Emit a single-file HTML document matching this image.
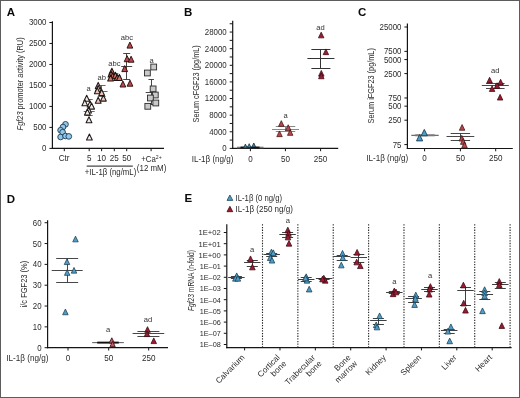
<!DOCTYPE html>
<html><head><meta charset="utf-8"><style>
html,body{margin:0;padding:0;background:#fff;}
#w{position:relative;width:520px;height:398px;overflow:hidden;background:#fff;}
#w svg{position:absolute;left:0;top:0;display:block;filter:blur(0.3px);font-family:"Liberation Sans", sans-serif;}
#b{position:absolute;left:0;top:0;width:518px;height:396px;border:1px solid #5c5c5c;}
</style></head><body>
<div id="w">
<svg width="520" height="398" viewBox="0 0 520 398">
<rect x="-5" y="-5" width="530" height="408" fill="#fff"/>
<text x="6.80" y="16.00" font-size="11.5" text-anchor="start" fill="#0a0a0a" font-weight="bold">A</text>
<line x1="52.40" y1="21.30" x2="52.40" y2="149.00" stroke="#151515" stroke-width="1.2"/>
<line x1="51.80" y1="148.40" x2="164.00" y2="148.40" stroke="#151515" stroke-width="1.2"/>
<line x1="49.40" y1="148.40" x2="52.40" y2="148.40" stroke="#151515" stroke-width="1.0"/>
<text x="46.40" y="151.35" font-size="8.3" text-anchor="end" fill="#2b2b2b" textLength="4.38" lengthAdjust="spacingAndGlyphs">0</text>
<line x1="49.40" y1="127.42" x2="52.40" y2="127.42" stroke="#151515" stroke-width="1.0"/>
<text x="46.40" y="130.37" font-size="8.3" text-anchor="end" fill="#2b2b2b" textLength="13.14" lengthAdjust="spacingAndGlyphs">500</text>
<line x1="49.40" y1="106.43" x2="52.40" y2="106.43" stroke="#151515" stroke-width="1.0"/>
<text x="46.40" y="109.38" font-size="8.3" text-anchor="end" fill="#2b2b2b" textLength="17.52" lengthAdjust="spacingAndGlyphs">1000</text>
<line x1="49.40" y1="85.45" x2="52.40" y2="85.45" stroke="#151515" stroke-width="1.0"/>
<text x="46.40" y="88.40" font-size="8.3" text-anchor="end" fill="#2b2b2b" textLength="17.52" lengthAdjust="spacingAndGlyphs">1500</text>
<line x1="49.40" y1="64.47" x2="52.40" y2="64.47" stroke="#151515" stroke-width="1.0"/>
<text x="46.40" y="67.42" font-size="8.3" text-anchor="end" fill="#2b2b2b" textLength="17.52" lengthAdjust="spacingAndGlyphs">2000</text>
<line x1="49.40" y1="43.48" x2="52.40" y2="43.48" stroke="#151515" stroke-width="1.0"/>
<text x="46.40" y="46.43" font-size="8.3" text-anchor="end" fill="#2b2b2b" textLength="17.52" lengthAdjust="spacingAndGlyphs">2500</text>
<line x1="49.40" y1="22.50" x2="52.40" y2="22.50" stroke="#151515" stroke-width="1.0"/>
<text x="46.40" y="25.45" font-size="8.3" text-anchor="end" fill="#2b2b2b" textLength="17.52" lengthAdjust="spacingAndGlyphs">3000</text>
<line x1="64.30" y1="148.40" x2="64.30" y2="151.20" stroke="#151515" stroke-width="1.0"/>
<line x1="89.20" y1="148.40" x2="89.20" y2="151.20" stroke="#151515" stroke-width="1.0"/>
<line x1="101.60" y1="148.40" x2="101.60" y2="151.20" stroke="#151515" stroke-width="1.0"/>
<line x1="114.30" y1="148.40" x2="114.30" y2="151.20" stroke="#151515" stroke-width="1.0"/>
<line x1="126.70" y1="148.40" x2="126.70" y2="151.20" stroke="#151515" stroke-width="1.0"/>
<line x1="151.10" y1="148.40" x2="151.10" y2="151.20" stroke="#151515" stroke-width="1.0"/>
<text x="64.10" y="161.30" font-size="8.4" text-anchor="middle" fill="#2b2b2b" textLength="10.90" lengthAdjust="spacingAndGlyphs">Ctr</text>
<text x="89.20" y="161.30" font-size="8.4" text-anchor="middle" fill="#2b2b2b" textLength="4.50" lengthAdjust="spacingAndGlyphs">5</text>
<text x="101.60" y="161.30" font-size="8.4" text-anchor="middle" fill="#2b2b2b" textLength="9.00" lengthAdjust="spacingAndGlyphs">10</text>
<text x="114.30" y="161.30" font-size="8.4" text-anchor="middle" fill="#2b2b2b" textLength="9.00" lengthAdjust="spacingAndGlyphs">25</text>
<text x="126.70" y="161.30" font-size="8.4" text-anchor="middle" fill="#2b2b2b" textLength="9.00" lengthAdjust="spacingAndGlyphs">50</text>
<text x="151.50" y="162.00" font-size="8.4" text-anchor="middle" fill="#2b2b2b" textLength="20.50" lengthAdjust="spacingAndGlyphs">+Ca<tspan font-size="5.5" dy="-3.4">2+</tspan></text>
<line x1="86.70" y1="166.10" x2="132.80" y2="166.10" stroke="#1a1a1a" stroke-width="1.0"/>
<text x="110.50" y="175.00" font-size="8.4" text-anchor="middle" fill="#2b2b2b" textLength="51.50" lengthAdjust="spacingAndGlyphs">+IL-1β (ng/mL)</text>
<text x="151.60" y="171.40" font-size="8.4" text-anchor="middle" fill="#2b2b2b" textLength="29.50" lengthAdjust="spacingAndGlyphs">(12 mM)</text>
<text x="22.60" y="83.90" font-size="8.6" text-anchor="middle" fill="#2b2b2b" textLength="93.00" lengthAdjust="spacingAndGlyphs" transform="rotate(-90 22.60 83.90)"><tspan font-style="italic">Fgf23</tspan> promoter activity (RU)</text>
<circle cx="65.50" cy="124.30" r="2.85" fill="#93c6e8" stroke="#173447" stroke-width="0.85"/>
<circle cx="63.00" cy="127.00" r="2.85" fill="#93c6e8" stroke="#173447" stroke-width="0.85"/>
<circle cx="60.60" cy="130.20" r="2.85" fill="#93c6e8" stroke="#173447" stroke-width="0.85"/>
<circle cx="62.60" cy="132.20" r="2.85" fill="#93c6e8" stroke="#173447" stroke-width="0.85"/>
<circle cx="60.60" cy="137.00" r="2.85" fill="#93c6e8" stroke="#173447" stroke-width="0.85"/>
<circle cx="65.50" cy="136.00" r="2.85" fill="#93c6e8" stroke="#173447" stroke-width="0.85"/>
<circle cx="68.80" cy="136.40" r="2.85" fill="#93c6e8" stroke="#173447" stroke-width="0.85"/>
<line x1="83.70" y1="111.50" x2="94.70" y2="111.50" stroke="#444" stroke-width="0.8"/>
<line x1="85.70" y1="99.50" x2="92.70" y2="99.50" stroke="#444" stroke-width="0.8"/>
<line x1="85.70" y1="115.50" x2="92.70" y2="115.50" stroke="#444" stroke-width="0.8"/>
<line x1="89.50" y1="99.50" x2="89.50" y2="115.50" stroke="#444" stroke-width="0.8"/>
<path d="M86.70 95.30L89.60 101.30L83.80 101.30Z" fill="#f8e8e4" stroke="#1e1a1a" stroke-width="1.05" stroke-linejoin="round"/>
<path d="M84.80 99.80L87.70 105.80L81.90 105.80Z" fill="#f8e8e4" stroke="#1e1a1a" stroke-width="1.05" stroke-linejoin="round"/>
<path d="M90.10 100.90L93.00 106.90L87.20 106.90Z" fill="#f8e8e4" stroke="#1e1a1a" stroke-width="1.05" stroke-linejoin="round"/>
<path d="M91.60 103.10L94.50 109.10L88.70 109.10Z" fill="#f8e8e4" stroke="#1e1a1a" stroke-width="1.05" stroke-linejoin="round"/>
<path d="M88.60 106.90L91.50 112.90L85.70 112.90Z" fill="#f8e8e4" stroke="#1e1a1a" stroke-width="1.05" stroke-linejoin="round"/>
<path d="M87.40 109.10L90.30 115.10L84.50 115.10Z" fill="#f8e8e4" stroke="#1e1a1a" stroke-width="1.05" stroke-linejoin="round"/>
<path d="M89.00 116.70L91.90 122.70L86.10 122.70Z" fill="#f8e8e4" stroke="#1e1a1a" stroke-width="1.05" stroke-linejoin="round"/>
<path d="M89.40 134.00L92.30 140.00L86.50 140.00Z" fill="#f8e8e4" stroke="#1e1a1a" stroke-width="1.05" stroke-linejoin="round"/>
<text x="88.60" y="90.80" font-size="7.6" text-anchor="middle" fill="#333333">a</text>
<line x1="95.60" y1="91.50" x2="107.60" y2="91.50" stroke="#444" stroke-width="0.8"/>
<line x1="97.60" y1="85.50" x2="105.60" y2="85.50" stroke="#444" stroke-width="0.8"/>
<line x1="97.60" y1="96.50" x2="105.60" y2="96.50" stroke="#444" stroke-width="0.8"/>
<line x1="101.50" y1="85.50" x2="101.50" y2="96.50" stroke="#444" stroke-width="0.8"/>
<path d="M98.20 82.40L101.10 88.40L95.30 88.40Z" fill="#f0c4b8" stroke="#1e1a1a" stroke-width="1.05" stroke-linejoin="round"/>
<path d="M98.20 85.50L101.10 91.50L95.30 91.50Z" fill="#f0c4b8" stroke="#1e1a1a" stroke-width="1.05" stroke-linejoin="round"/>
<path d="M97.30 87.70L100.20 93.70L94.40 93.70Z" fill="#f0c4b8" stroke="#1e1a1a" stroke-width="1.05" stroke-linejoin="round"/>
<path d="M101.70 89.40L104.60 95.40L98.80 95.40Z" fill="#f0c4b8" stroke="#1e1a1a" stroke-width="1.05" stroke-linejoin="round"/>
<path d="M103.40 95.10L106.30 101.10L100.50 101.10Z" fill="#f0c4b8" stroke="#1e1a1a" stroke-width="1.05" stroke-linejoin="round"/>
<path d="M98.20 97.30L101.10 103.30L95.30 103.30Z" fill="#f0c4b8" stroke="#1e1a1a" stroke-width="1.05" stroke-linejoin="round"/>
<text x="101.80" y="79.60" font-size="7.6" text-anchor="middle" fill="#333333">ab</text>
<line x1="108.30" y1="75.50" x2="120.30" y2="75.50" stroke="#444" stroke-width="0.8"/>
<line x1="110.30" y1="73.50" x2="118.30" y2="73.50" stroke="#444" stroke-width="0.8"/>
<line x1="110.30" y1="77.50" x2="118.30" y2="77.50" stroke="#444" stroke-width="0.8"/>
<line x1="114.50" y1="73.50" x2="114.50" y2="77.50" stroke="#444" stroke-width="0.8"/>
<path d="M111.90 68.30L114.80 74.30L109.00 74.30Z" fill="#d47464" stroke="#1e1212" stroke-width="1.05" stroke-linejoin="round"/>
<path d="M111.00 70.90L113.90 76.90L108.10 76.90Z" fill="#d47464" stroke="#1e1212" stroke-width="1.05" stroke-linejoin="round"/>
<path d="M112.80 72.70L115.70 78.70L109.90 78.70Z" fill="#d47464" stroke="#1e1212" stroke-width="1.05" stroke-linejoin="round"/>
<path d="M110.60 74.90L113.50 80.90L107.70 80.90Z" fill="#d47464" stroke="#1e1212" stroke-width="1.05" stroke-linejoin="round"/>
<path d="M115.40 72.20L118.30 78.20L112.50 78.20Z" fill="#d47464" stroke="#1e1212" stroke-width="1.05" stroke-linejoin="round"/>
<path d="M117.20 74.40L120.10 80.40L114.30 80.40Z" fill="#d47464" stroke="#1e1212" stroke-width="1.05" stroke-linejoin="round"/>
<path d="M119.40 74.40L122.30 80.40L116.50 80.40Z" fill="#d47464" stroke="#1e1212" stroke-width="1.05" stroke-linejoin="round"/>
<text x="114.40" y="66.00" font-size="7.6" text-anchor="middle" fill="#333333">abc</text>
<line x1="121.20" y1="66.50" x2="132.20" y2="66.50" stroke="#333" stroke-width="0.9"/>
<line x1="123.20" y1="53.50" x2="130.20" y2="53.50" stroke="#333" stroke-width="0.9"/>
<line x1="123.20" y1="79.50" x2="130.20" y2="79.50" stroke="#333" stroke-width="0.9"/>
<line x1="126.50" y1="53.50" x2="126.50" y2="79.50" stroke="#333" stroke-width="0.9"/>
<path d="M129.90 42.10L132.80 48.10L127.00 48.10Z" fill="#bb484c" stroke="#2a1010" stroke-width="0.95" stroke-linejoin="round"/>
<path d="M127.10 55.70L130.00 61.70L124.20 61.70Z" fill="#bb484c" stroke="#2a1010" stroke-width="0.95" stroke-linejoin="round"/>
<path d="M131.10 56.20L134.00 62.20L128.20 62.20Z" fill="#bb484c" stroke="#2a1010" stroke-width="0.95" stroke-linejoin="round"/>
<path d="M124.70 65.60L127.60 71.60L121.80 71.60Z" fill="#bb484c" stroke="#2a1010" stroke-width="0.95" stroke-linejoin="round"/>
<path d="M122.90 81.00L125.80 87.00L120.00 87.00Z" fill="#bb484c" stroke="#2a1010" stroke-width="0.95" stroke-linejoin="round"/>
<path d="M130.00 80.20L132.90 86.20L127.10 86.20Z" fill="#bb484c" stroke="#2a1010" stroke-width="0.95" stroke-linejoin="round"/>
<text x="126.90" y="39.90" font-size="7.6" text-anchor="middle" fill="#333333">abc</text>
<line x1="145.70" y1="92.50" x2="156.70" y2="92.50" stroke="#333" stroke-width="0.9"/>
<line x1="148.45" y1="79.50" x2="153.95" y2="79.50" stroke="#333" stroke-width="0.9"/>
<line x1="148.45" y1="104.50" x2="153.95" y2="104.50" stroke="#333" stroke-width="0.9"/>
<line x1="151.50" y1="79.50" x2="151.50" y2="104.50" stroke="#333" stroke-width="0.9"/>
<rect x="150.80" y="64.10" width="5.8" height="5.8" fill="#c9c9c9" stroke="#2a2a2a" stroke-width="0.9"/>
<rect x="144.50" y="70.10" width="5.8" height="5.8" fill="#c9c9c9" stroke="#2a2a2a" stroke-width="0.9"/>
<rect x="150.20" y="86.00" width="5.8" height="5.8" fill="#c9c9c9" stroke="#2a2a2a" stroke-width="0.9"/>
<rect x="152.40" y="92.10" width="5.8" height="5.8" fill="#c9c9c9" stroke="#2a2a2a" stroke-width="0.9"/>
<rect x="147.50" y="95.10" width="5.8" height="5.8" fill="#c9c9c9" stroke="#2a2a2a" stroke-width="0.9"/>
<rect x="152.90" y="100.10" width="5.8" height="5.8" fill="#c9c9c9" stroke="#2a2a2a" stroke-width="0.9"/>
<rect x="144.90" y="103.40" width="5.8" height="5.8" fill="#c9c9c9" stroke="#2a2a2a" stroke-width="0.9"/>
<text x="151.60" y="63.30" font-size="7.6" text-anchor="middle" fill="#333333">a</text>
<text x="184.10" y="16.00" font-size="11.5" text-anchor="start" fill="#0a0a0a" font-weight="bold">B</text>
<line x1="232.70" y1="20.80" x2="232.70" y2="149.00" stroke="#151515" stroke-width="1.2"/>
<line x1="232.10" y1="148.40" x2="338.20" y2="148.40" stroke="#151515" stroke-width="1.2"/>
<line x1="229.70" y1="148.40" x2="232.70" y2="148.40" stroke="#151515" stroke-width="1.0"/>
<text x="226.70" y="151.35" font-size="8.3" text-anchor="end" fill="#2b2b2b" textLength="4.38" lengthAdjust="spacingAndGlyphs">0</text>
<line x1="229.70" y1="140.09" x2="232.70" y2="140.09" stroke="#151515" stroke-width="1.0"/>
<line x1="229.70" y1="131.78" x2="232.70" y2="131.78" stroke="#151515" stroke-width="1.0"/>
<text x="226.70" y="134.73" font-size="8.3" text-anchor="end" fill="#2b2b2b" textLength="17.52" lengthAdjust="spacingAndGlyphs">4000</text>
<line x1="229.70" y1="123.47" x2="232.70" y2="123.47" stroke="#151515" stroke-width="1.0"/>
<line x1="229.70" y1="115.16" x2="232.70" y2="115.16" stroke="#151515" stroke-width="1.0"/>
<text x="226.70" y="118.11" font-size="8.3" text-anchor="end" fill="#2b2b2b" textLength="17.52" lengthAdjust="spacingAndGlyphs">8000</text>
<line x1="229.70" y1="106.85" x2="232.70" y2="106.85" stroke="#151515" stroke-width="1.0"/>
<line x1="229.70" y1="98.54" x2="232.70" y2="98.54" stroke="#151515" stroke-width="1.0"/>
<text x="226.70" y="101.49" font-size="8.3" text-anchor="end" fill="#2b2b2b" textLength="21.90" lengthAdjust="spacingAndGlyphs">12000</text>
<line x1="229.70" y1="90.23" x2="232.70" y2="90.23" stroke="#151515" stroke-width="1.0"/>
<line x1="229.70" y1="81.92" x2="232.70" y2="81.92" stroke="#151515" stroke-width="1.0"/>
<text x="226.70" y="84.87" font-size="8.3" text-anchor="end" fill="#2b2b2b" textLength="21.90" lengthAdjust="spacingAndGlyphs">16000</text>
<line x1="229.70" y1="73.61" x2="232.70" y2="73.61" stroke="#151515" stroke-width="1.0"/>
<line x1="229.70" y1="65.30" x2="232.70" y2="65.30" stroke="#151515" stroke-width="1.0"/>
<text x="226.70" y="68.25" font-size="8.3" text-anchor="end" fill="#2b2b2b" textLength="21.90" lengthAdjust="spacingAndGlyphs">20000</text>
<line x1="229.70" y1="56.99" x2="232.70" y2="56.99" stroke="#151515" stroke-width="1.0"/>
<line x1="229.70" y1="48.68" x2="232.70" y2="48.68" stroke="#151515" stroke-width="1.0"/>
<text x="226.70" y="51.63" font-size="8.3" text-anchor="end" fill="#2b2b2b" textLength="21.90" lengthAdjust="spacingAndGlyphs">24000</text>
<line x1="229.70" y1="40.37" x2="232.70" y2="40.37" stroke="#151515" stroke-width="1.0"/>
<line x1="229.70" y1="32.06" x2="232.70" y2="32.06" stroke="#151515" stroke-width="1.0"/>
<text x="226.70" y="35.01" font-size="8.3" text-anchor="end" fill="#2b2b2b" textLength="21.90" lengthAdjust="spacingAndGlyphs">28000</text>
<line x1="229.70" y1="23.75" x2="232.70" y2="23.75" stroke="#151515" stroke-width="1.0"/>
<line x1="250.40" y1="148.40" x2="250.40" y2="151.20" stroke="#151515" stroke-width="1.0"/>
<text x="250.40" y="161.60" font-size="8.4" text-anchor="middle" fill="#2b2b2b" textLength="4.50" lengthAdjust="spacingAndGlyphs">0</text>
<line x1="285.40" y1="148.40" x2="285.40" y2="151.20" stroke="#151515" stroke-width="1.0"/>
<text x="285.40" y="161.60" font-size="8.4" text-anchor="middle" fill="#2b2b2b" textLength="9.00" lengthAdjust="spacingAndGlyphs">50</text>
<line x1="320.60" y1="148.40" x2="320.60" y2="151.20" stroke="#151515" stroke-width="1.0"/>
<text x="320.60" y="161.60" font-size="8.4" text-anchor="middle" fill="#2b2b2b" textLength="13.50" lengthAdjust="spacingAndGlyphs">250</text>
<text x="191.70" y="161.50" font-size="8.6" text-anchor="start" fill="#2b2b2b" textLength="41.80" lengthAdjust="spacingAndGlyphs">IL-1β (ng/g)</text>
<text x="199.20" y="83.85" font-size="8.6" text-anchor="middle" fill="#2b2b2b" textLength="77.30" lengthAdjust="spacingAndGlyphs" transform="rotate(-90 199.20 83.85)">Serum cFGF23 (pg/mL)</text>
<line x1="237.00" y1="147.50" x2="263.50" y2="147.50" stroke="#777" stroke-width="1.6"/>
<line x1="240.50" y1="147.50" x2="259.50" y2="147.50" stroke="#111" stroke-width="1.8"/>
<path d="M245.40 144.10L247.20 147.90L243.60 147.90Z" fill="#3f8fb8" stroke="#14303d" stroke-width="0.8" stroke-linejoin="round"/>
<path d="M249.20 143.70L251.00 147.50L247.40 147.50Z" fill="#3f8fb8" stroke="#14303d" stroke-width="0.8" stroke-linejoin="round"/>
<path d="M253.80 143.00L255.60 146.80L252.00 146.80Z" fill="#3f8fb8" stroke="#14303d" stroke-width="0.8" stroke-linejoin="round"/>
<line x1="272.00" y1="129.50" x2="299.00" y2="129.50" stroke="#888" stroke-width="1.0"/>
<line x1="275.75" y1="126.50" x2="295.25" y2="126.50" stroke="#888" stroke-width="1.0"/>
<line x1="275.75" y1="131.50" x2="295.25" y2="131.50" stroke="#888" stroke-width="1.0"/>
<line x1="285.50" y1="126.50" x2="285.50" y2="131.50" stroke="#888" stroke-width="1.0"/>
<path d="M281.30 120.65L284.05 126.35L278.55 126.35Z" fill="#b9464a" stroke="#3d1414" stroke-width="0.75" stroke-linejoin="round"/>
<path d="M279.50 130.95L282.25 136.65L276.75 136.65Z" fill="#b9464a" stroke="#3d1414" stroke-width="0.75" stroke-linejoin="round"/>
<path d="M288.20 124.75L290.95 130.45L285.45 130.45Z" fill="#b9464a" stroke="#3d1414" stroke-width="0.75" stroke-linejoin="round"/>
<path d="M290.20 129.65L292.95 135.35L287.45 135.35Z" fill="#b9464a" stroke="#3d1414" stroke-width="0.75" stroke-linejoin="round"/>
<text x="285.70" y="118.20" font-size="7.6" text-anchor="middle" fill="#333333">a</text>
<line x1="307.40" y1="58.50" x2="334.40" y2="58.50" stroke="#333" stroke-width="1.0"/>
<line x1="311.40" y1="49.50" x2="330.40" y2="49.50" stroke="#333" stroke-width="1.0"/>
<line x1="311.40" y1="68.50" x2="330.40" y2="68.50" stroke="#333" stroke-width="1.0"/>
<line x1="320.50" y1="49.50" x2="320.50" y2="68.50" stroke="#333" stroke-width="1.0"/>
<path d="M321.20 32.15L323.95 37.85L318.45 37.85Z" fill="#9c1b30" stroke="#3a0a12" stroke-width="0.75" stroke-linejoin="round"/>
<path d="M325.90 48.95L328.65 54.65L323.15 54.65Z" fill="#9c1b30" stroke="#3a0a12" stroke-width="0.75" stroke-linejoin="round"/>
<path d="M321.30 70.45L324.05 76.15L318.55 76.15Z" fill="#9c1b30" stroke="#3a0a12" stroke-width="0.75" stroke-linejoin="round"/>
<path d="M321.30 73.05L324.05 78.75L318.55 78.75Z" fill="#9c1b30" stroke="#3a0a12" stroke-width="0.75" stroke-linejoin="round"/>
<text x="320.60" y="29.90" font-size="7.6" text-anchor="middle" fill="#333333">ad</text>
<text x="358.00" y="16.00" font-size="11.5" text-anchor="start" fill="#0a0a0a" font-weight="bold">C</text>
<line x1="407.40" y1="23.50" x2="407.40" y2="149.10" stroke="#151515" stroke-width="1.2"/>
<line x1="406.80" y1="148.50" x2="512.80" y2="148.50" stroke="#151515" stroke-width="1.2"/>
<line x1="404.40" y1="27.00" x2="407.40" y2="27.00" stroke="#151515" stroke-width="1.0"/>
<text x="401.40" y="29.95" font-size="8.3" text-anchor="end" fill="#2b2b2b" textLength="21.90" lengthAdjust="spacingAndGlyphs">25000</text>
<line x1="404.40" y1="51.37" x2="407.40" y2="51.37" stroke="#151515" stroke-width="1.0"/>
<text x="401.40" y="54.32" font-size="8.3" text-anchor="end" fill="#2b2b2b" textLength="17.52" lengthAdjust="spacingAndGlyphs">7500</text>
<line x1="404.40" y1="59.57" x2="407.40" y2="59.57" stroke="#151515" stroke-width="1.0"/>
<text x="401.40" y="62.52" font-size="8.3" text-anchor="end" fill="#2b2b2b" textLength="17.52" lengthAdjust="spacingAndGlyphs">5000</text>
<line x1="404.40" y1="73.60" x2="407.40" y2="73.60" stroke="#151515" stroke-width="1.0"/>
<text x="401.40" y="76.55" font-size="8.3" text-anchor="end" fill="#2b2b2b" textLength="17.52" lengthAdjust="spacingAndGlyphs">2500</text>
<line x1="404.40" y1="97.97" x2="407.40" y2="97.97" stroke="#151515" stroke-width="1.0"/>
<text x="401.40" y="100.92" font-size="8.3" text-anchor="end" fill="#2b2b2b" textLength="13.14" lengthAdjust="spacingAndGlyphs">750</text>
<line x1="404.40" y1="106.17" x2="407.40" y2="106.17" stroke="#151515" stroke-width="1.0"/>
<text x="401.40" y="109.12" font-size="8.3" text-anchor="end" fill="#2b2b2b" textLength="13.14" lengthAdjust="spacingAndGlyphs">500</text>
<line x1="404.40" y1="120.20" x2="407.40" y2="120.20" stroke="#151515" stroke-width="1.0"/>
<text x="401.40" y="123.15" font-size="8.3" text-anchor="end" fill="#2b2b2b" textLength="13.14" lengthAdjust="spacingAndGlyphs">250</text>
<line x1="404.40" y1="144.57" x2="407.40" y2="144.57" stroke="#151515" stroke-width="1.0"/>
<text x="401.40" y="147.52" font-size="8.3" text-anchor="end" fill="#2b2b2b" textLength="8.76" lengthAdjust="spacingAndGlyphs">75</text>
<line x1="424.60" y1="148.50" x2="424.60" y2="151.30" stroke="#151515" stroke-width="1.0"/>
<text x="424.60" y="161.20" font-size="8.4" text-anchor="middle" fill="#2b2b2b" textLength="4.50" lengthAdjust="spacingAndGlyphs">0</text>
<line x1="460.40" y1="148.50" x2="460.40" y2="151.30" stroke="#151515" stroke-width="1.0"/>
<text x="460.40" y="161.20" font-size="8.4" text-anchor="middle" fill="#2b2b2b" textLength="9.00" lengthAdjust="spacingAndGlyphs">50</text>
<line x1="495.70" y1="148.50" x2="495.70" y2="151.30" stroke="#151515" stroke-width="1.0"/>
<text x="495.70" y="161.20" font-size="8.4" text-anchor="middle" fill="#2b2b2b" textLength="13.50" lengthAdjust="spacingAndGlyphs">250</text>
<text x="366.20" y="161.30" font-size="8.6" text-anchor="start" fill="#2b2b2b" textLength="42.00" lengthAdjust="spacingAndGlyphs">IL-1β (ng/g)</text>
<text x="374.00" y="85.80" font-size="8.6" text-anchor="middle" fill="#2b2b2b" textLength="75.40" lengthAdjust="spacingAndGlyphs" transform="rotate(-90 374.00 85.80)">Serum iFGF23 (pg/mL)</text>
<line x1="411.30" y1="135.30" x2="438.70" y2="135.30" stroke="#333" stroke-width="0.9"/>
<line x1="415.20" y1="135.30" x2="434.80" y2="135.30" stroke="#7a7a7a" stroke-width="2.0"/>
<path d="M424.30 129.40L427.40 135.80L421.20 135.80Z" fill="#4e9dca" stroke="#1b3d4e" stroke-width="0.9" stroke-linejoin="round"/>
<path d="M419.60 134.50L422.70 140.90L416.50 140.90Z" fill="#4e9dca" stroke="#1b3d4e" stroke-width="0.9" stroke-linejoin="round"/>
<line x1="446.50" y1="136.50" x2="474.30" y2="136.50" stroke="#333" stroke-width="0.9"/>
<line x1="450.70" y1="133.50" x2="470.10" y2="133.50" stroke="#333" stroke-width="0.9"/>
<line x1="450.70" y1="140.50" x2="470.10" y2="140.50" stroke="#333" stroke-width="0.9"/>
<line x1="460.50" y1="133.50" x2="460.50" y2="140.50" stroke="#333" stroke-width="0.9"/>
<path d="M462.10 124.55L464.85 130.25L459.35 130.25Z" fill="#b9464a" stroke="#3d1414" stroke-width="0.75" stroke-linejoin="round"/>
<path d="M461.80 135.35L464.55 141.05L459.05 141.05Z" fill="#b9464a" stroke="#3d1414" stroke-width="0.75" stroke-linejoin="round"/>
<path d="M463.20 138.65L465.95 144.35L460.45 144.35Z" fill="#b9464a" stroke="#3d1414" stroke-width="0.75" stroke-linejoin="round"/>
<path d="M464.50 142.05L467.25 147.75L461.75 147.75Z" fill="#b9464a" stroke="#3d1414" stroke-width="0.75" stroke-linejoin="round"/>
<line x1="481.80" y1="85.50" x2="508.80" y2="85.50" stroke="#333" stroke-width="0.9"/>
<line x1="486.00" y1="83.50" x2="504.60" y2="83.50" stroke="#333" stroke-width="0.9"/>
<line x1="486.00" y1="88.50" x2="504.60" y2="88.50" stroke="#333" stroke-width="0.9"/>
<line x1="495.50" y1="83.50" x2="495.50" y2="88.50" stroke="#333" stroke-width="0.9"/>
<path d="M489.60 77.25L492.35 82.95L486.85 82.95Z" fill="#9c1b30" stroke="#3a0a12" stroke-width="0.75" stroke-linejoin="round"/>
<path d="M500.60 79.25L503.35 84.95L497.85 84.95Z" fill="#9c1b30" stroke="#3a0a12" stroke-width="0.75" stroke-linejoin="round"/>
<path d="M497.10 82.75L499.85 88.45L494.35 88.45Z" fill="#9c1b30" stroke="#3a0a12" stroke-width="0.75" stroke-linejoin="round"/>
<path d="M492.10 85.75L494.85 91.45L489.35 91.45Z" fill="#9c1b30" stroke="#3a0a12" stroke-width="0.75" stroke-linejoin="round"/>
<path d="M500.10 94.35L502.85 100.05L497.35 100.05Z" fill="#9c1b30" stroke="#3a0a12" stroke-width="0.75" stroke-linejoin="round"/>
<text x="495.20" y="72.90" font-size="7.6" text-anchor="middle" fill="#333333">ad</text>
<text x="6.80" y="202.50" font-size="11.5" text-anchor="start" fill="#0a0a0a" font-weight="bold">D</text>
<line x1="47.60" y1="220.20" x2="47.60" y2="348.30" stroke="#151515" stroke-width="1.2"/>
<line x1="47.00" y1="347.70" x2="168.00" y2="347.70" stroke="#151515" stroke-width="1.2"/>
<line x1="44.60" y1="347.70" x2="47.60" y2="347.70" stroke="#151515" stroke-width="1.0"/>
<text x="41.60" y="350.65" font-size="8.3" text-anchor="end" fill="#2b2b2b" textLength="4.38" lengthAdjust="spacingAndGlyphs">0</text>
<line x1="44.60" y1="326.87" x2="47.60" y2="326.87" stroke="#151515" stroke-width="1.0"/>
<text x="41.60" y="329.82" font-size="8.3" text-anchor="end" fill="#2b2b2b" textLength="8.76" lengthAdjust="spacingAndGlyphs">10</text>
<line x1="44.60" y1="306.04" x2="47.60" y2="306.04" stroke="#151515" stroke-width="1.0"/>
<text x="41.60" y="308.99" font-size="8.3" text-anchor="end" fill="#2b2b2b" textLength="8.76" lengthAdjust="spacingAndGlyphs">20</text>
<line x1="44.60" y1="285.21" x2="47.60" y2="285.21" stroke="#151515" stroke-width="1.0"/>
<text x="41.60" y="288.16" font-size="8.3" text-anchor="end" fill="#2b2b2b" textLength="8.76" lengthAdjust="spacingAndGlyphs">30</text>
<line x1="44.60" y1="264.38" x2="47.60" y2="264.38" stroke="#151515" stroke-width="1.0"/>
<text x="41.60" y="267.33" font-size="8.3" text-anchor="end" fill="#2b2b2b" textLength="8.76" lengthAdjust="spacingAndGlyphs">40</text>
<line x1="44.60" y1="243.55" x2="47.60" y2="243.55" stroke="#151515" stroke-width="1.0"/>
<text x="41.60" y="246.50" font-size="8.3" text-anchor="end" fill="#2b2b2b" textLength="8.76" lengthAdjust="spacingAndGlyphs">50</text>
<line x1="44.60" y1="222.72" x2="47.60" y2="222.72" stroke="#151515" stroke-width="1.0"/>
<text x="41.60" y="225.67" font-size="8.3" text-anchor="end" fill="#2b2b2b" textLength="8.76" lengthAdjust="spacingAndGlyphs">60</text>
<line x1="68.00" y1="347.70" x2="68.00" y2="350.50" stroke="#151515" stroke-width="1.0"/>
<text x="68.00" y="360.70" font-size="8.4" text-anchor="middle" fill="#2b2b2b" textLength="4.50" lengthAdjust="spacingAndGlyphs">0</text>
<line x1="108.70" y1="347.70" x2="108.70" y2="350.50" stroke="#151515" stroke-width="1.0"/>
<text x="108.70" y="360.70" font-size="8.4" text-anchor="middle" fill="#2b2b2b" textLength="9.00" lengthAdjust="spacingAndGlyphs">50</text>
<line x1="148.70" y1="347.70" x2="148.70" y2="350.50" stroke="#151515" stroke-width="1.0"/>
<text x="148.70" y="360.70" font-size="8.4" text-anchor="middle" fill="#2b2b2b" textLength="13.50" lengthAdjust="spacingAndGlyphs">250</text>
<text x="6.20" y="360.70" font-size="8.6" text-anchor="start" fill="#2b2b2b" textLength="42.30" lengthAdjust="spacingAndGlyphs">IL-1β (ng/g)</text>
<text x="27.00" y="284.10" font-size="8.6" text-anchor="middle" fill="#2b2b2b" textLength="46.60" lengthAdjust="spacingAndGlyphs" transform="rotate(-90 27.00 284.10)">i/c FGF23 (%)</text>
<line x1="51.70" y1="270.50" x2="82.70" y2="270.50" stroke="#333" stroke-width="0.9"/>
<line x1="56.20" y1="258.50" x2="78.20" y2="258.50" stroke="#333" stroke-width="0.9"/>
<line x1="56.20" y1="282.50" x2="78.20" y2="282.50" stroke="#333" stroke-width="0.9"/>
<line x1="67.50" y1="258.50" x2="67.50" y2="282.50" stroke="#333" stroke-width="0.9"/>
<path d="M75.50 236.15L78.25 241.85L72.75 241.85Z" fill="#4e9dca" stroke="#1b3d4e" stroke-width="0.75" stroke-linejoin="round"/>
<path d="M67.00 258.85L69.75 264.55L64.25 264.55Z" fill="#4e9dca" stroke="#1b3d4e" stroke-width="0.75" stroke-linejoin="round"/>
<path d="M67.20 269.65L69.95 275.35L64.45 275.35Z" fill="#4e9dca" stroke="#1b3d4e" stroke-width="0.75" stroke-linejoin="round"/>
<path d="M74.00 267.45L76.75 273.15L71.25 273.15Z" fill="#4e9dca" stroke="#1b3d4e" stroke-width="0.75" stroke-linejoin="round"/>
<path d="M65.40 309.05L68.15 314.75L62.65 314.75Z" fill="#4e9dca" stroke="#1b3d4e" stroke-width="0.75" stroke-linejoin="round"/>
<line x1="92.20" y1="342.60" x2="123.80" y2="342.60" stroke="#666" stroke-width="1.1"/>
<line x1="97.20" y1="342.60" x2="118.80" y2="342.60" stroke="#111" stroke-width="1.9"/>
<path d="M111.80 337.80L114.40 343.00L109.20 343.00Z" fill="#c65a64" stroke="#3a1216" stroke-width="0.85" stroke-linejoin="round"/>
<path d="M112.60 341.40L115.20 346.60L110.00 346.60Z" fill="#c65a64" stroke="#3a1216" stroke-width="0.85" stroke-linejoin="round"/>
<text x="108.00" y="332.20" font-size="7.6" text-anchor="middle" fill="#333333">a</text>
<line x1="132.55" y1="333.50" x2="164.25" y2="333.50" stroke="#333" stroke-width="0.9"/>
<line x1="137.40" y1="331.50" x2="159.40" y2="331.50" stroke="#333" stroke-width="0.9"/>
<line x1="137.40" y1="336.50" x2="159.40" y2="336.50" stroke="#333" stroke-width="0.9"/>
<line x1="148.50" y1="331.50" x2="148.50" y2="336.50" stroke="#333" stroke-width="0.9"/>
<path d="M147.50 326.65L150.25 332.35L144.75 332.35Z" fill="#9c1b30" stroke="#3a0a12" stroke-width="0.75" stroke-linejoin="round"/>
<path d="M147.00 330.90L149.75 336.60L144.25 336.60Z" fill="#9c1b30" stroke="#3a0a12" stroke-width="0.75" stroke-linejoin="round"/>
<path d="M153.75 337.90L156.50 343.60L151.00 343.60Z" fill="#9c1b30" stroke="#3a0a12" stroke-width="0.75" stroke-linejoin="round"/>
<text x="148.00" y="322.20" font-size="7.6" text-anchor="middle" fill="#333333">ad</text>
<text x="184.40" y="202.30" font-size="11.5" text-anchor="start" fill="#0a0a0a" font-weight="bold">E</text>
<path d="M229.90 195.00L232.80 200.40L227.00 200.40Z" fill="#4e9dca" stroke="#1b3d4e" stroke-width="0.75" stroke-linejoin="round"/>
<text x="235.60" y="200.80" font-size="8.5" text-anchor="start" fill="#2b2b2b" textLength="46.50" lengthAdjust="spacingAndGlyphs">IL-1β (0 ng/g)</text>
<path d="M229.90 206.30L232.80 211.70L227.00 211.70Z" fill="#9c1b30" stroke="#3a0a12" stroke-width="0.75" stroke-linejoin="round"/>
<text x="235.60" y="211.90" font-size="8.5" text-anchor="start" fill="#2b2b2b" textLength="57.30" lengthAdjust="spacingAndGlyphs">IL-1β (250 ng/g)</text>
<line x1="226.80" y1="224.20" x2="226.80" y2="348.20" stroke="#151515" stroke-width="1.2"/>
<line x1="226.20" y1="347.60" x2="511.60" y2="347.60" stroke="#151515" stroke-width="1.2"/>
<line x1="223.80" y1="232.50" x2="226.80" y2="232.50" stroke="#151515" stroke-width="1.0"/>
<text x="220.80" y="235.35" font-size="8.1" text-anchor="end" fill="#2b2b2b" textLength="22.40" lengthAdjust="spacingAndGlyphs">1E+02</text>
<line x1="223.80" y1="243.70" x2="226.80" y2="243.70" stroke="#151515" stroke-width="1.0"/>
<text x="220.80" y="246.55" font-size="8.1" text-anchor="end" fill="#2b2b2b" textLength="22.40" lengthAdjust="spacingAndGlyphs">1E+01</text>
<line x1="223.80" y1="254.90" x2="226.80" y2="254.90" stroke="#151515" stroke-width="1.0"/>
<text x="220.80" y="257.75" font-size="8.1" text-anchor="end" fill="#2b2b2b" textLength="22.40" lengthAdjust="spacingAndGlyphs">1E+00</text>
<line x1="223.80" y1="266.10" x2="226.80" y2="266.10" stroke="#151515" stroke-width="1.0"/>
<text x="220.80" y="268.95" font-size="8.1" text-anchor="end" fill="#2b2b2b" textLength="21.10" lengthAdjust="spacingAndGlyphs">1E–01</text>
<line x1="223.80" y1="277.30" x2="226.80" y2="277.30" stroke="#151515" stroke-width="1.0"/>
<text x="220.80" y="280.15" font-size="8.1" text-anchor="end" fill="#2b2b2b" textLength="21.10" lengthAdjust="spacingAndGlyphs">1E–02</text>
<line x1="223.80" y1="288.50" x2="226.80" y2="288.50" stroke="#151515" stroke-width="1.0"/>
<text x="220.80" y="291.35" font-size="8.1" text-anchor="end" fill="#2b2b2b" textLength="21.10" lengthAdjust="spacingAndGlyphs">1E–03</text>
<line x1="223.80" y1="299.70" x2="226.80" y2="299.70" stroke="#151515" stroke-width="1.0"/>
<text x="220.80" y="302.55" font-size="8.1" text-anchor="end" fill="#2b2b2b" textLength="21.10" lengthAdjust="spacingAndGlyphs">1E–04</text>
<line x1="223.80" y1="310.90" x2="226.80" y2="310.90" stroke="#151515" stroke-width="1.0"/>
<text x="220.80" y="313.75" font-size="8.1" text-anchor="end" fill="#2b2b2b" textLength="21.10" lengthAdjust="spacingAndGlyphs">1E–05</text>
<line x1="223.80" y1="322.10" x2="226.80" y2="322.10" stroke="#151515" stroke-width="1.0"/>
<text x="220.80" y="324.95" font-size="8.1" text-anchor="end" fill="#2b2b2b" textLength="21.10" lengthAdjust="spacingAndGlyphs">1E–06</text>
<line x1="223.80" y1="333.30" x2="226.80" y2="333.30" stroke="#151515" stroke-width="1.0"/>
<text x="220.80" y="336.15" font-size="8.1" text-anchor="end" fill="#2b2b2b" textLength="21.10" lengthAdjust="spacingAndGlyphs">1E–07</text>
<line x1="223.80" y1="344.50" x2="226.80" y2="344.50" stroke="#151515" stroke-width="1.0"/>
<text x="220.80" y="347.35" font-size="8.1" text-anchor="end" fill="#2b2b2b" textLength="21.10" lengthAdjust="spacingAndGlyphs">1E–08</text>
<line x1="262.50" y1="224.30" x2="262.50" y2="347.60" stroke="#222" stroke-width="1.1" stroke-dasharray="1.3 1.35"/>
<line x1="297.87" y1="224.30" x2="297.87" y2="347.60" stroke="#222" stroke-width="1.1" stroke-dasharray="1.3 1.35"/>
<line x1="333.24" y1="224.30" x2="333.24" y2="347.60" stroke="#222" stroke-width="1.1" stroke-dasharray="1.3 1.35"/>
<line x1="368.61" y1="224.30" x2="368.61" y2="347.60" stroke="#222" stroke-width="1.1" stroke-dasharray="1.3 1.35"/>
<line x1="403.98" y1="224.30" x2="403.98" y2="347.60" stroke="#222" stroke-width="1.1" stroke-dasharray="1.3 1.35"/>
<line x1="439.35" y1="224.30" x2="439.35" y2="347.60" stroke="#222" stroke-width="1.1" stroke-dasharray="1.3 1.35"/>
<line x1="474.72" y1="224.30" x2="474.72" y2="347.60" stroke="#222" stroke-width="1.1" stroke-dasharray="1.3 1.35"/>
<line x1="510.09" y1="224.30" x2="510.09" y2="347.60" stroke="#222" stroke-width="1.1" stroke-dasharray="1.3 1.35"/>
<line x1="244.60" y1="347.60" x2="244.60" y2="350.40" stroke="#151515" stroke-width="1.0"/>
<text x="245.00" y="358.00" font-size="8.2" text-anchor="end" fill="#2b2b2b" transform="rotate(-45 245.00 358.00)">Calvarium</text>
<line x1="279.97" y1="347.60" x2="279.97" y2="350.40" stroke="#151515" stroke-width="1.0"/>
<text x="280.37" y="358.00" font-size="8.2" text-anchor="end" fill="#2b2b2b" transform="rotate(-45 280.37 358.00)">Cortical</text>
<text x="286.87" y="364.00" font-size="8.2" text-anchor="end" fill="#2b2b2b" transform="rotate(-45 286.87 364.00)">bone</text>
<line x1="315.34" y1="347.60" x2="315.34" y2="350.40" stroke="#151515" stroke-width="1.0"/>
<text x="315.74" y="358.00" font-size="8.2" text-anchor="end" fill="#2b2b2b" transform="rotate(-45 315.74 358.00)">Trabecular</text>
<text x="322.24" y="364.00" font-size="8.2" text-anchor="end" fill="#2b2b2b" transform="rotate(-45 322.24 364.00)">bone</text>
<line x1="350.71" y1="347.60" x2="350.71" y2="350.40" stroke="#151515" stroke-width="1.0"/>
<text x="351.11" y="358.00" font-size="8.2" text-anchor="end" fill="#2b2b2b" transform="rotate(-45 351.11 358.00)">Bone</text>
<text x="357.61" y="364.00" font-size="8.2" text-anchor="end" fill="#2b2b2b" transform="rotate(-45 357.61 364.00)">marrow</text>
<line x1="386.08" y1="347.60" x2="386.08" y2="350.40" stroke="#151515" stroke-width="1.0"/>
<text x="386.48" y="358.00" font-size="8.2" text-anchor="end" fill="#2b2b2b" transform="rotate(-45 386.48 358.00)">Kidney</text>
<line x1="421.45" y1="347.60" x2="421.45" y2="350.40" stroke="#151515" stroke-width="1.0"/>
<text x="421.85" y="358.00" font-size="8.2" text-anchor="end" fill="#2b2b2b" transform="rotate(-45 421.85 358.00)">Spleen</text>
<line x1="456.82" y1="347.60" x2="456.82" y2="350.40" stroke="#151515" stroke-width="1.0"/>
<text x="457.22" y="358.00" font-size="8.2" text-anchor="end" fill="#2b2b2b" transform="rotate(-45 457.22 358.00)">Liver</text>
<line x1="492.19" y1="347.60" x2="492.19" y2="350.40" stroke="#151515" stroke-width="1.0"/>
<text x="492.59" y="358.00" font-size="8.2" text-anchor="end" fill="#2b2b2b" transform="rotate(-45 492.59 358.00)">Heart</text>
<text x="194.00" y="280.50" font-size="8.6" text-anchor="middle" fill="#2b2b2b" textLength="61.00" lengthAdjust="spacingAndGlyphs" transform="rotate(-90 194.00 280.50)"><tspan font-style="italic">Fgf23</tspan> mRNA (n-fold)</text>
<line x1="228.15" y1="277.50" x2="244.65" y2="277.50" stroke="#2a2a2a" stroke-width="0.9"/>
<line x1="230.90" y1="276.50" x2="241.90" y2="276.50" stroke="#2a2a2a" stroke-width="0.9"/>
<line x1="230.90" y1="278.50" x2="241.90" y2="278.50" stroke="#2a2a2a" stroke-width="0.9"/>
<line x1="236.50" y1="276.50" x2="236.50" y2="278.50" stroke="#2a2a2a" stroke-width="0.9"/>
<path d="M236.70 272.95L239.50 278.65L233.90 278.65Z" fill="#4e9dca" stroke="#1b3d4e" stroke-width="0.75" stroke-linejoin="round"/>
<path d="M235.40 275.45L238.20 281.15L232.60 281.15Z" fill="#4e9dca" stroke="#1b3d4e" stroke-width="0.75" stroke-linejoin="round"/>
<path d="M237.90 275.45L240.70 281.15L235.10 281.15Z" fill="#4e9dca" stroke="#1b3d4e" stroke-width="0.75" stroke-linejoin="round"/>
<line x1="244.05" y1="262.50" x2="260.55" y2="262.50" stroke="#2a2a2a" stroke-width="0.9"/>
<line x1="246.80" y1="260.50" x2="257.80" y2="260.50" stroke="#2a2a2a" stroke-width="0.9"/>
<line x1="246.80" y1="266.50" x2="257.80" y2="266.50" stroke="#2a2a2a" stroke-width="0.9"/>
<line x1="252.50" y1="260.50" x2="252.50" y2="266.50" stroke="#2a2a2a" stroke-width="0.9"/>
<path d="M250.50 255.95L253.30 261.65L247.70 261.65Z" fill="#9c1b30" stroke="#3a0a12" stroke-width="0.75" stroke-linejoin="round"/>
<path d="M252.40 264.15L255.20 269.85L249.60 269.85Z" fill="#9c1b30" stroke="#3a0a12" stroke-width="0.75" stroke-linejoin="round"/>
<text x="252.10" y="252.10" font-size="7.6" text-anchor="middle" fill="#333333">a</text>
<line x1="263.45" y1="254.50" x2="279.95" y2="254.50" stroke="#2a2a2a" stroke-width="0.9"/>
<line x1="266.20" y1="253.50" x2="277.20" y2="253.50" stroke="#2a2a2a" stroke-width="0.9"/>
<line x1="266.20" y1="256.50" x2="277.20" y2="256.50" stroke="#2a2a2a" stroke-width="0.9"/>
<line x1="271.50" y1="253.50" x2="271.50" y2="256.50" stroke="#2a2a2a" stroke-width="0.9"/>
<path d="M271.40 249.15L274.20 254.85L268.60 254.85Z" fill="#4e9dca" stroke="#1b3d4e" stroke-width="0.75" stroke-linejoin="round"/>
<path d="M273.30 249.85L276.10 255.55L270.50 255.55Z" fill="#4e9dca" stroke="#1b3d4e" stroke-width="0.75" stroke-linejoin="round"/>
<path d="M270.20 254.85L273.00 260.55L267.40 260.55Z" fill="#4e9dca" stroke="#1b3d4e" stroke-width="0.75" stroke-linejoin="round"/>
<path d="M272.00 257.35L274.80 263.05L269.20 263.05Z" fill="#4e9dca" stroke="#1b3d4e" stroke-width="0.75" stroke-linejoin="round"/>
<line x1="279.35" y1="234.50" x2="295.85" y2="234.50" stroke="#2a2a2a" stroke-width="0.9"/>
<line x1="282.10" y1="232.50" x2="293.10" y2="232.50" stroke="#2a2a2a" stroke-width="0.9"/>
<line x1="282.10" y1="237.50" x2="293.10" y2="237.50" stroke="#2a2a2a" stroke-width="0.9"/>
<line x1="287.50" y1="232.50" x2="287.50" y2="237.50" stroke="#2a2a2a" stroke-width="0.9"/>
<path d="M287.80 227.15L290.60 232.85L285.00 232.85Z" fill="#9c1b30" stroke="#3a0a12" stroke-width="0.75" stroke-linejoin="round"/>
<path d="M288.50 230.65L291.30 236.35L285.70 236.35Z" fill="#9c1b30" stroke="#3a0a12" stroke-width="0.75" stroke-linejoin="round"/>
<path d="M288.00 234.15L290.80 239.85L285.20 239.85Z" fill="#9c1b30" stroke="#3a0a12" stroke-width="0.75" stroke-linejoin="round"/>
<path d="M289.00 240.45L291.80 246.15L286.20 246.15Z" fill="#9c1b30" stroke="#3a0a12" stroke-width="0.75" stroke-linejoin="round"/>
<text x="287.80" y="223.40" font-size="7.6" text-anchor="middle" fill="#333333">a</text>
<line x1="297.95" y1="279.50" x2="314.45" y2="279.50" stroke="#2a2a2a" stroke-width="0.9"/>
<line x1="300.70" y1="277.50" x2="311.70" y2="277.50" stroke="#2a2a2a" stroke-width="0.9"/>
<line x1="300.70" y1="281.50" x2="311.70" y2="281.50" stroke="#2a2a2a" stroke-width="0.9"/>
<line x1="306.50" y1="277.50" x2="306.50" y2="281.50" stroke="#2a2a2a" stroke-width="0.9"/>
<path d="M306.20 273.85L309.00 279.55L303.40 279.55Z" fill="#4e9dca" stroke="#1b3d4e" stroke-width="0.75" stroke-linejoin="round"/>
<path d="M307.00 277.45L309.80 283.15L304.20 283.15Z" fill="#4e9dca" stroke="#1b3d4e" stroke-width="0.75" stroke-linejoin="round"/>
<path d="M305.50 275.15L308.30 280.85L302.70 280.85Z" fill="#4e9dca" stroke="#1b3d4e" stroke-width="0.75" stroke-linejoin="round"/>
<path d="M309.20 286.25L312.00 291.95L306.40 291.95Z" fill="#4e9dca" stroke="#1b3d4e" stroke-width="0.75" stroke-linejoin="round"/>
<line x1="315.85" y1="278.50" x2="332.35" y2="278.50" stroke="#2a2a2a" stroke-width="0.9"/>
<line x1="318.60" y1="278.50" x2="329.60" y2="278.50" stroke="#2a2a2a" stroke-width="0.9"/>
<line x1="318.60" y1="279.50" x2="329.60" y2="279.50" stroke="#2a2a2a" stroke-width="0.9"/>
<line x1="324.50" y1="278.50" x2="324.50" y2="279.50" stroke="#2a2a2a" stroke-width="0.9"/>
<path d="M323.80 275.25L326.60 280.95L321.00 280.95Z" fill="#9c1b30" stroke="#3a0a12" stroke-width="0.75" stroke-linejoin="round"/>
<path d="M325.20 277.45L328.00 283.15L322.40 283.15Z" fill="#9c1b30" stroke="#3a0a12" stroke-width="0.75" stroke-linejoin="round"/>
<path d="M322.50 276.15L325.30 281.85L319.70 281.85Z" fill="#9c1b30" stroke="#3a0a12" stroke-width="0.75" stroke-linejoin="round"/>
<line x1="333.95" y1="256.50" x2="350.45" y2="256.50" stroke="#2a2a2a" stroke-width="0.9"/>
<line x1="336.70" y1="255.50" x2="347.70" y2="255.50" stroke="#2a2a2a" stroke-width="0.9"/>
<line x1="336.70" y1="260.50" x2="347.70" y2="260.50" stroke="#2a2a2a" stroke-width="0.9"/>
<line x1="342.50" y1="255.50" x2="342.50" y2="260.50" stroke="#2a2a2a" stroke-width="0.9"/>
<path d="M342.50 250.45L345.30 256.15L339.70 256.15Z" fill="#4e9dca" stroke="#1b3d4e" stroke-width="0.75" stroke-linejoin="round"/>
<path d="M342.80 254.85L345.60 260.55L340.00 260.55Z" fill="#4e9dca" stroke="#1b3d4e" stroke-width="0.75" stroke-linejoin="round"/>
<path d="M341.30 262.15L344.10 267.85L338.50 267.85Z" fill="#4e9dca" stroke="#1b3d4e" stroke-width="0.75" stroke-linejoin="round"/>
<line x1="350.55" y1="257.50" x2="367.05" y2="257.50" stroke="#2a2a2a" stroke-width="0.9"/>
<line x1="353.30" y1="254.50" x2="364.30" y2="254.50" stroke="#2a2a2a" stroke-width="0.9"/>
<line x1="353.30" y1="262.50" x2="364.30" y2="262.50" stroke="#2a2a2a" stroke-width="0.9"/>
<line x1="358.50" y1="254.50" x2="358.50" y2="262.50" stroke="#2a2a2a" stroke-width="0.9"/>
<path d="M357.10 249.45L359.90 255.15L354.30 255.15Z" fill="#9c1b30" stroke="#3a0a12" stroke-width="0.75" stroke-linejoin="round"/>
<path d="M356.70 259.15L359.50 264.85L353.90 264.85Z" fill="#9c1b30" stroke="#3a0a12" stroke-width="0.75" stroke-linejoin="round"/>
<path d="M360.30 262.85L363.10 268.55L357.50 268.55Z" fill="#9c1b30" stroke="#3a0a12" stroke-width="0.75" stroke-linejoin="round"/>
<line x1="370.15" y1="320.50" x2="386.65" y2="320.50" stroke="#2a2a2a" stroke-width="0.9"/>
<line x1="372.90" y1="318.50" x2="383.90" y2="318.50" stroke="#2a2a2a" stroke-width="0.9"/>
<line x1="372.90" y1="324.50" x2="383.90" y2="324.50" stroke="#2a2a2a" stroke-width="0.9"/>
<line x1="378.50" y1="318.50" x2="378.50" y2="324.50" stroke="#2a2a2a" stroke-width="0.9"/>
<path d="M379.60 312.95L382.40 318.65L376.80 318.65Z" fill="#4e9dca" stroke="#1b3d4e" stroke-width="0.75" stroke-linejoin="round"/>
<path d="M376.20 321.95L379.00 327.65L373.40 327.65Z" fill="#4e9dca" stroke="#1b3d4e" stroke-width="0.75" stroke-linejoin="round"/>
<path d="M377.00 324.15L379.80 329.85L374.20 329.85Z" fill="#4e9dca" stroke="#1b3d4e" stroke-width="0.75" stroke-linejoin="round"/>
<line x1="386.05" y1="292.50" x2="402.55" y2="292.50" stroke="#2a2a2a" stroke-width="0.9"/>
<line x1="388.80" y1="291.50" x2="399.80" y2="291.50" stroke="#2a2a2a" stroke-width="0.9"/>
<line x1="388.80" y1="293.50" x2="399.80" y2="293.50" stroke="#2a2a2a" stroke-width="0.9"/>
<line x1="394.50" y1="291.50" x2="394.50" y2="293.50" stroke="#2a2a2a" stroke-width="0.9"/>
<path d="M394.30 288.05L397.10 293.75L391.50 293.75Z" fill="#9c1b30" stroke="#3a0a12" stroke-width="0.75" stroke-linejoin="round"/>
<path d="M393.10 290.95L395.90 296.65L390.30 296.65Z" fill="#9c1b30" stroke="#3a0a12" stroke-width="0.75" stroke-linejoin="round"/>
<path d="M396.00 289.15L398.80 294.85L393.20 294.85Z" fill="#9c1b30" stroke="#3a0a12" stroke-width="0.75" stroke-linejoin="round"/>
<text x="394.30" y="284.10" font-size="7.6" text-anchor="middle" fill="#333333">a</text>
<line x1="405.35" y1="298.50" x2="421.85" y2="298.50" stroke="#2a2a2a" stroke-width="0.9"/>
<line x1="408.10" y1="296.50" x2="419.10" y2="296.50" stroke="#2a2a2a" stroke-width="0.9"/>
<line x1="408.10" y1="302.50" x2="419.10" y2="302.50" stroke="#2a2a2a" stroke-width="0.9"/>
<line x1="413.50" y1="296.50" x2="413.50" y2="302.50" stroke="#2a2a2a" stroke-width="0.9"/>
<path d="M415.80 292.15L418.60 297.85L413.00 297.85Z" fill="#4e9dca" stroke="#1b3d4e" stroke-width="0.75" stroke-linejoin="round"/>
<path d="M415.40 295.65L418.20 301.35L412.60 301.35Z" fill="#4e9dca" stroke="#1b3d4e" stroke-width="0.75" stroke-linejoin="round"/>
<path d="M414.60 301.75L417.40 307.45L411.80 307.45Z" fill="#4e9dca" stroke="#1b3d4e" stroke-width="0.75" stroke-linejoin="round"/>
<line x1="421.25" y1="289.50" x2="437.75" y2="289.50" stroke="#2a2a2a" stroke-width="0.9"/>
<line x1="424.00" y1="287.50" x2="435.00" y2="287.50" stroke="#2a2a2a" stroke-width="0.9"/>
<line x1="424.00" y1="291.50" x2="435.00" y2="291.50" stroke="#2a2a2a" stroke-width="0.9"/>
<line x1="429.50" y1="287.50" x2="429.50" y2="291.50" stroke="#2a2a2a" stroke-width="0.9"/>
<path d="M430.40 283.65L433.20 289.35L427.60 289.35Z" fill="#9c1b30" stroke="#3a0a12" stroke-width="0.75" stroke-linejoin="round"/>
<path d="M429.60 286.35L432.40 292.05L426.80 292.05Z" fill="#9c1b30" stroke="#3a0a12" stroke-width="0.75" stroke-linejoin="round"/>
<path d="M429.20 291.35L432.00 297.05L426.40 297.05Z" fill="#9c1b30" stroke="#3a0a12" stroke-width="0.75" stroke-linejoin="round"/>
<text x="430.00" y="278.40" font-size="7.6" text-anchor="middle" fill="#333333">a</text>
<line x1="440.95" y1="330.50" x2="457.45" y2="330.50" stroke="#2a2a2a" stroke-width="0.9"/>
<line x1="443.70" y1="329.50" x2="454.70" y2="329.50" stroke="#2a2a2a" stroke-width="0.9"/>
<line x1="443.70" y1="333.50" x2="454.70" y2="333.50" stroke="#2a2a2a" stroke-width="0.9"/>
<line x1="449.50" y1="329.50" x2="449.50" y2="333.50" stroke="#2a2a2a" stroke-width="0.9"/>
<path d="M450.90 323.95L453.70 329.65L448.10 329.65Z" fill="#4e9dca" stroke="#1b3d4e" stroke-width="0.75" stroke-linejoin="round"/>
<path d="M447.90 328.35L450.70 334.05L445.10 334.05Z" fill="#4e9dca" stroke="#1b3d4e" stroke-width="0.75" stroke-linejoin="round"/>
<path d="M449.70 338.05L452.50 343.75L446.90 343.75Z" fill="#4e9dca" stroke="#1b3d4e" stroke-width="0.75" stroke-linejoin="round"/>
<line x1="457.25" y1="290.50" x2="473.75" y2="290.50" stroke="#2a2a2a" stroke-width="0.9"/>
<line x1="460.00" y1="287.50" x2="471.00" y2="287.50" stroke="#2a2a2a" stroke-width="0.9"/>
<line x1="460.00" y1="305.50" x2="471.00" y2="305.50" stroke="#2a2a2a" stroke-width="0.9"/>
<line x1="465.50" y1="287.50" x2="465.50" y2="305.50" stroke="#2a2a2a" stroke-width="0.9"/>
<path d="M463.40 282.15L466.20 287.85L460.60 287.85Z" fill="#9c1b30" stroke="#3a0a12" stroke-width="0.75" stroke-linejoin="round"/>
<path d="M463.70 300.25L466.50 305.95L460.90 305.95Z" fill="#9c1b30" stroke="#3a0a12" stroke-width="0.75" stroke-linejoin="round"/>
<path d="M465.50 307.35L468.30 313.05L462.70 313.05Z" fill="#9c1b30" stroke="#3a0a12" stroke-width="0.75" stroke-linejoin="round"/>
<line x1="476.55" y1="294.50" x2="493.05" y2="294.50" stroke="#2a2a2a" stroke-width="0.9"/>
<line x1="479.30" y1="291.50" x2="490.30" y2="291.50" stroke="#2a2a2a" stroke-width="0.9"/>
<line x1="479.30" y1="299.50" x2="490.30" y2="299.50" stroke="#2a2a2a" stroke-width="0.9"/>
<line x1="484.50" y1="291.50" x2="484.50" y2="299.50" stroke="#2a2a2a" stroke-width="0.9"/>
<path d="M484.60 286.75L487.40 292.45L481.80 292.45Z" fill="#4e9dca" stroke="#1b3d4e" stroke-width="0.75" stroke-linejoin="round"/>
<path d="M484.60 290.05L487.40 295.75L481.80 295.75Z" fill="#4e9dca" stroke="#1b3d4e" stroke-width="0.75" stroke-linejoin="round"/>
<path d="M484.60 293.25L487.40 298.95L481.80 298.95Z" fill="#4e9dca" stroke="#1b3d4e" stroke-width="0.75" stroke-linejoin="round"/>
<path d="M482.50 307.95L485.30 313.65L479.70 313.65Z" fill="#4e9dca" stroke="#1b3d4e" stroke-width="0.75" stroke-linejoin="round"/>
<line x1="492.05" y1="284.50" x2="508.55" y2="284.50" stroke="#2a2a2a" stroke-width="0.9"/>
<line x1="494.80" y1="282.50" x2="505.80" y2="282.50" stroke="#2a2a2a" stroke-width="0.9"/>
<line x1="494.80" y1="288.50" x2="505.80" y2="288.50" stroke="#2a2a2a" stroke-width="0.9"/>
<line x1="500.50" y1="282.50" x2="500.50" y2="288.50" stroke="#2a2a2a" stroke-width="0.9"/>
<path d="M499.30 278.55L502.10 284.25L496.50 284.25Z" fill="#9c1b30" stroke="#3a0a12" stroke-width="0.75" stroke-linejoin="round"/>
<path d="M499.30 281.85L502.10 287.55L496.50 287.55Z" fill="#9c1b30" stroke="#3a0a12" stroke-width="0.75" stroke-linejoin="round"/>
<path d="M501.80 322.75L504.60 328.45L499.00 328.45Z" fill="#9c1b30" stroke="#3a0a12" stroke-width="0.75" stroke-linejoin="round"/>
</svg>
<div id="b"></div>
</div>
</body></html>
